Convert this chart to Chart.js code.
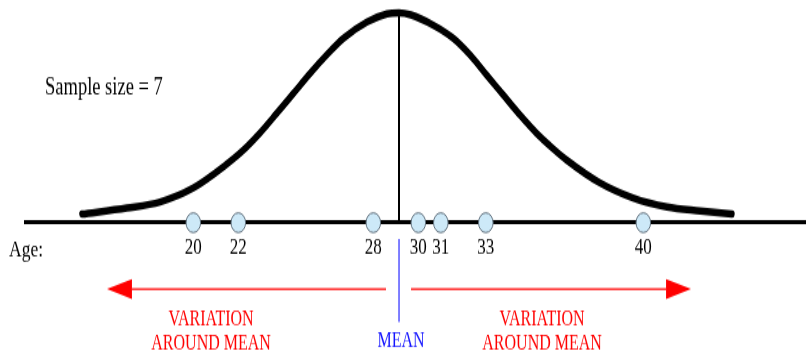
<!DOCTYPE html>
<html>
<head>
<meta charset="utf-8">
<script src="https://cdn.jsdelivr.net/npm/chart.js@4/dist/chart.umd.min.js"></script>
<style>
  html, body { margin: 0; padding: 0; background: #fff; overflow: hidden; }
  #chart { display: block; }
</style>
</head>
<body>
<!-- the original picture is stretched vertically, so the canvas is too -->
<canvas id="chart" width="806" height="260" style="width:806px;height:351px"></canvas>
<script>
/* ═══ data ═══ */
const ages = [20, 22, 28, 30, 31, 33, 40];

// bell curve (age, relative height above the axis)
const curveAges    = [15.05, 17.05, 18.52, 19.99, 21.50, 22.22, 22.97, 23.71, 24.45, 25.19, 25.93, 26.67,
                      27.72, 28.61, 29.14, 29.67, 30.65, 31.56, 32.30, 33.04, 33.78, 34.52, 35.26, 36.00,
                      36.61, 38.08, 39.54, 41.05, 42.52, 43.94];
const curveHeights = [0.041, 0.070, 0.099, 0.165, 0.280, 0.345, 0.428, 0.521, 0.616, 0.711, 0.799, 0.878,
                      0.956, 0.995, 1.000, 0.990, 0.942, 0.878, 0.799, 0.703, 0.608, 0.513, 0.426, 0.352,
                      0.297, 0.189, 0.118, 0.075, 0.056, 0.041];

const labelAge = 'Age:';
const labelSample = 'Sample size = ';
const labelMean = 'MEAN';
const labelVariation = ['VARIATION', 'AROUND MEAN'];

const meanAge = ages.reduce((s, v) => s + v, 0) / ages.length;

/* ═══ layout ═══ */
const STRETCH = 351 / 260;
const Y = v => v / STRETCH;          // picture px -> canvas px (vertical)
const SERIF = '"Liberation Serif", "Times New Roman", serif';
const arrowReach = 12.98;            // age units from the mean to the arrow tips
const variationAt = [20.79, 35.50];  // text centres, in age units

function drawArrow(ctx, from, tip, y) {
  const dir = Math.sign(tip - from);
  const base = tip - dir * 25;
  ctx.beginPath(); ctx.moveTo(from, y); ctx.lineTo(base, y); ctx.stroke();
  ctx.beginPath();
  ctx.moveTo(tip, y);
  ctx.lineTo(base, y - Y(10));
  ctx.lineTo(base, y + Y(10));
  ctx.closePath(); ctx.fill();
}

const notes = {
  id: 'notes',
  afterDraw(chart) {
    const ctx = chart.ctx, xs = chart.scales.x;
    const mx = xs.getPixelForValue(meanAge);
    ctx.save();
    ctx.textBaseline = 'alphabetic';

    ctx.fillStyle = '#000';
    ctx.textAlign = 'left';
    ctx.font = '18.5px ' + SERIF;
    ctx.fillText(labelSample + ages.length, 45, Y(95));
    ctx.font = '17.5px ' + SERIF;
    ctx.fillText(labelAge, 9, Y(256));

    // mean marker below the axis
    ctx.strokeStyle = '#5555ff'; ctx.lineWidth = 1.5;
    ctx.beginPath(); ctx.moveTo(mx, Y(239)); ctx.lineTo(mx, Y(322)); ctx.stroke();
    ctx.fillStyle = '#1414ff';
    ctx.textAlign = 'center';
    ctx.font = '16px ' + SERIF;
    ctx.fillText(labelMean, mx + 2, Y(347));

    // variation arrows
    ctx.strokeStyle = '#ff0000'; ctx.fillStyle = '#ff0000'; ctx.lineWidth = 1.3;
    const ay = Y(289);
    drawArrow(ctx, mx - 13, xs.getPixelForValue(meanAge - arrowReach), ay);
    drawArrow(ctx, mx + 12, xs.getPixelForValue(meanAge + arrowReach), ay);
    ctx.font = '16px ' + SERIF;
    variationAt.forEach(a => {
      const px = xs.getPixelForValue(a);
      ctx.fillText(labelVariation[0], px, Y(325));
      ctx.fillText(labelVariation[1], px, Y(350));
    });
    ctx.restore();
  }
};

/* ═══ chart ═══ */
new Chart(document.getElementById('chart'), {
  type: 'scatter',
  data: {
    datasets: [
      {
        label: 'ages',
        data: ages.map(a => ({ x: a, y: 0 })),
        pointRadius: 7.3,
        pointBackgroundColor: '#cde9f8',
        pointBorderColor: '#5f6f7c',
        pointBorderWidth: 1,
        showLine: false
      },
      {
        label: 'mean',
        type: 'line',
        data: [{ x: meanAge, y: 0 }, { x: meanAge, y: 1 }],
        borderColor: '#000',
        borderWidth: 2,
        pointRadius: 0
      },
      {
        label: 'curve',
        type: 'line',
        data: curveAges.map((a, i) => ({ x: a, y: curveHeights[i] })),
        borderColor: '#000',
        borderWidth: 5.5,
        borderCapStyle: 'round',
        borderJoinStyle: 'round',
        cubicInterpolationMode: 'monotone',
        pointRadius: 0,
        fill: false
      }
    ]
  },
  options: {
    responsive: false,
    animation: false,
    devicePixelRatio: 1,
    events: [],
    layout: { autoPadding: false, padding: { left: 25, right: 0, top: 0, bottom: 0 } },
    plugins: { legend: { display: false }, tooltip: { enabled: false } },
    scales: {
      x: {
        type: 'linear',
        min: 12.52, max: 47.23,
        position: { y: 0 },
        afterBuildTicks: s => { s.ticks = ages.map(v => ({ value: v })); },
        grid: { display: true, color: 'rgba(0,0,0,0)', drawTicks: false },
        border: { display: true, color: '#000', width: 3 },
        ticks: {
          autoSkip: false, maxRotation: 0, padding: 8, color: '#000',
          font: { family: SERIF, size: 17 }
        }
      },
      y: { type: 'linear', min: -0.611, max: 1.0605, display: false }
    }
  },
  plugins: [notes]
});
</script>
</body>
</html>
